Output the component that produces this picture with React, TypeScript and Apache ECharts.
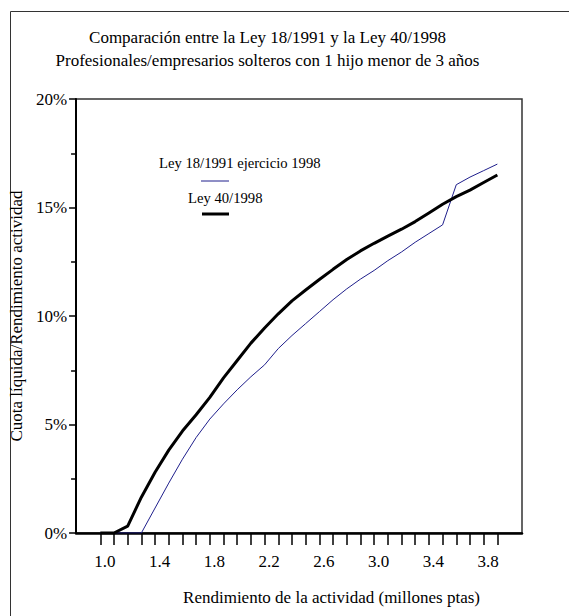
import React, { useEffect, useRef } from "react";
import * as echarts from "echarts";

const xValues = [1.0, 1.1, 1.2, 1.3, 1.4, 1.5, 1.6, 1.7, 1.8, 1.9, 2.0, 2.1, 2.2, 2.3, 2.4, 2.5, 2.6, 2.7, 2.8, 2.9, 3.0, 3.1, 3.2, 3.3, 3.4, 3.5, 3.6, 3.7, 3.8, 3.9];
const ley18Values = [0, 0, 0, 0, 1.15, 2.3, 3.4, 4.4, 5.25, 5.95, 6.6, 7.2, 7.75, 8.5, 9.1, 9.65, 10.2, 10.75, 11.25, 11.7, 12.1, 12.55, 12.95, 13.4, 13.8, 14.2, 16.05, 16.4, 16.7, 17.0];
const ley40Values = [0, 0, 0.32, 1.65, 2.8, 3.82, 4.7, 5.45, 6.25, 7.15, 7.95, 8.75, 9.45, 10.1, 10.7, 11.2, 11.68, 12.15, 12.6, 13.0, 13.35, 13.68, 14.0, 14.35, 14.75, 15.15, 15.5, 15.8, 16.15, 16.5];
const xTickValues = xValues;
const xLabelValues = [1.0, 1.4, 1.8, 2.2, 2.6, 3.0, 3.4, 3.8];
const titleLines = [
  "Comparación entre la Ley 18/1991 y la Ley 40/1998",
  "Profesionales/empresarios solteros con 1 hijo menor de 3 años",
];
const seriesNames = ["Ley 18/1991 ejercicio 1998", "Ley 40/1998"];
const xAxisTitle = "Rendimiento de la actividad (millones ptas)";
const yAxisTitle = "Cuota líquida/Rendimiento actividad";

const FONT = "'Liberation Serif', 'Times New Roman', serif";

export default function App() {
  const ref = useRef<HTMLDivElement>(null);
  useEffect(() => {
    if (!ref.current) return;
    const chart = echarts.init(ref.current, null, { renderer: "svg" });
    const blueData = xValues.map((x, i) => [x, ley18Values[i]]);
    const blackData = xValues.map((x, i) => [x, ley40Values[i]]);
    chart.setOption({
      animation: false,
      backgroundColor: "#fff",
      textStyle: { fontFamily: FONT },
      grid: {
        left: 74,
        top: 99,
        right: 47,
        bottom: 83,
        show: true,
        borderColor: "#333",
        borderWidth: 1.5,
      },
      xAxis: {
        type: "value",
        min: 0.823,
        max: 4.08,
        splitLine: { show: false },
        axisLine: { show: true, lineStyle: { color: "#000", width: 2.5 } },
        axisTick: {
          show: true,
          customValues: xTickValues,
          length: 12,
          lineStyle: { color: "#000", width: 1.5 },
        },
        axisLabel: {
          customValues: xLabelValues,
          formatter: (v: number) => v.toFixed(1),
          fontSize: 17,
          color: "#000",
          fontFamily: FONT,
          margin: 20,
          padding: [0, 0, 0, 9],
        },
      },
      yAxis: {
        type: "value",
        min: 0,
        max: 20,
        interval: 5,
        name: yAxisTitle,
        nameLocation: "middle",
        nameRotate: 90,
        nameGap: 46,
        nameTextStyle: { fontSize: 17, color: "#000", fontFamily: FONT },
        splitLine: { show: false },
        axisLine: { show: true, lineStyle: { color: "#000", width: 2 } },
        axisTick: { show: true, length: 7, lineStyle: { color: "#000", width: 1.5 } },
        minorTick: { show: true, splitNumber: 2, length: 5, lineStyle: { color: "#000", width: 1.5 } },
        axisLabel: {
          formatter: "{value}%",
          fontSize: 17,
          color: "#000",
          fontFamily: FONT,
          margin: 9,
        },
      },
      series: [
        {
          name: seriesNames[0],
          type: "line",
          data: blueData,
          showSymbol: false,
          lineStyle: { color: "#1f1f8c", width: 1 },
          z: 2,
        },
        {
          name: seriesNames[1],
          type: "line",
          data: blackData,
          showSymbol: false,
          lineStyle: { color: "#000", width: 3 },
          z: 3,
        },
      ],
      graphic: [
        {
          type: "rect",
          shape: { x: 10.5, y: 11.5, width: 700, height: 700 },
          style: { fill: "none", stroke: "#333", lineWidth: 1 },
          silent: true,
        },
        {
          type: "text",
          x: 267.5,
          y: 37,
          style: { text: titleLines[0], fontSize: 17, fontFamily: FONT, fill: "#000", align: "center", verticalAlign: "middle" },
        },
        {
          type: "text",
          x: 267.5,
          y: 60,
          style: { text: titleLines[1], fontSize: 17, fontFamily: FONT, fill: "#000", align: "center", verticalAlign: "middle" },
        },
        {
          type: "text",
          x: 480,
          y: 597,
          style: { text: xAxisTitle, fontSize: 17, fontFamily: FONT, fill: "#000", align: "right", verticalAlign: "middle" },
        },
        {
          type: "text",
          x: 159,
          y: 163,
          style: { text: seriesNames[0], fontSize: 14.67, fontFamily: FONT, fill: "#000", align: "left", verticalAlign: "middle" },
        },
        {
          type: "line",
          shape: { x1: 201, y1: 181, x2: 229, y2: 181 },
          style: { stroke: "#1f1f8c", lineWidth: 1 },
        },
        {
          type: "text",
          x: 188,
          y: 198,
          style: { text: seriesNames[1], fontSize: 14.67, fontFamily: FONT, fill: "#000", align: "left", verticalAlign: "middle" },
        },
        {
          type: "line",
          shape: { x1: 202, y1: 214, x2: 229, y2: 214 },
          style: { stroke: "#000", lineWidth: 3 },
        },
      ],
    });
    return () => chart.dispose();
  }, []);
  return (
    <div
      ref={ref}
      style={{ position: "fixed", left: 0, top: 0, width: 569, height: 616 }}
    />
  );
}
